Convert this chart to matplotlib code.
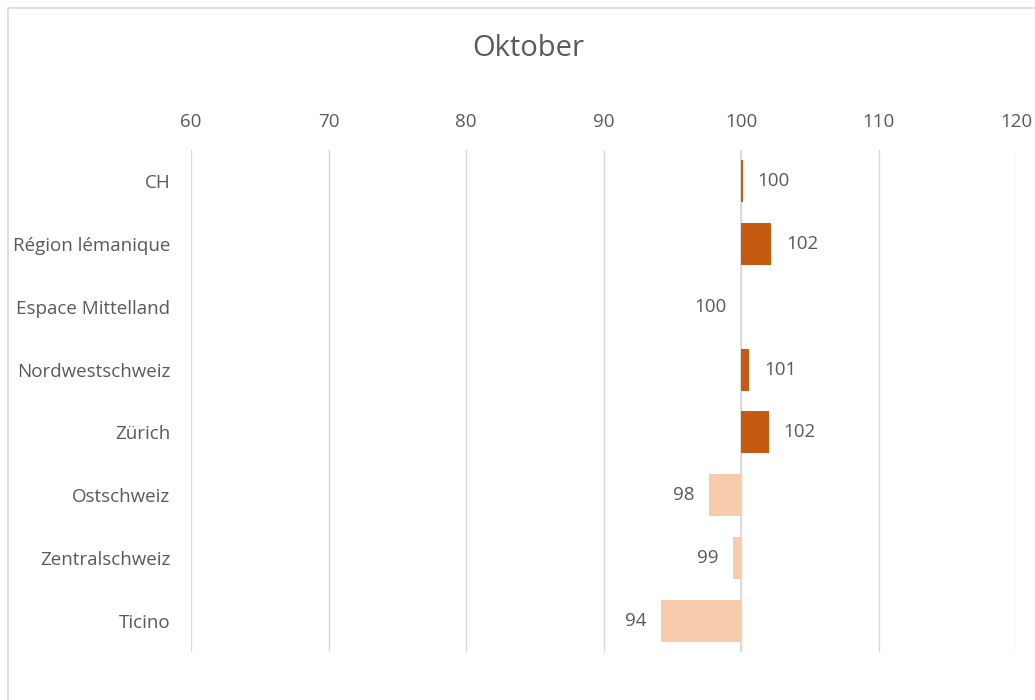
import matplotlib
matplotlib.use("Agg")
import matplotlib.pyplot as plt
from matplotlib.patches import Rectangle

categories = ["CH", "Région lémanique", "Espace Mittelland", "Nordwestschweiz",
              "Zürich", "Ostschweiz", "Zentralschweiz", "Ticino"]
values = [100.15, 102.2, 99.98, 100.6, 102.0, 97.7, 99.4, 94.2]
labels = ["100", "102", "100", "101", "102", "98", "99", "94"]
base = 100
xticks = [60, 70, 80, 90, 100, 110, 120]

pos_color = "#C55A11"
neg_color = "#F8CBAD"
text_color = "#595959"
grid_color = "#D9D9D9"

plt.rcParams['font.family'] = ['Open Sans', 'DejaVu Sans']

fig = plt.figure(figsize=(10.35, 7), dpi=100)
fig.patches.append(Rectangle((8/1035, -0.1), 1.2, 1 - 8/700 + 0.1,
                             transform=fig.transFigure, fill=False,
                             edgecolor=grid_color, linewidth=1.2))
ax = fig.add_axes([191/1035, 1 - 652/700, (1016 - 191)/1035, (652 - 150)/700])

ys = list(range(len(categories)))
for y, v, lab in zip(ys, values, labels):
    c = pos_color if v >= base else neg_color
    ax.barh(y, v - base, left=base, height=0.67, color=c, edgecolor='none')
    if v >= base:
        ax.annotate(lab, (v, y), xytext=(10.5, 0), textcoords='offset points',
                    ha='left', va='center', fontsize=13.5, color=text_color)
    else:
        ax.annotate(lab, (v, y), xytext=(-10.5, 0), textcoords='offset points',
                    ha='right', va='center', fontsize=13.5, color=text_color)

ax.set_xlim(60, 120)
ax.set_ylim(len(categories) - 0.5, -0.5)
ax.set_xticks(xticks)
ax.set_xticklabels([str(t) for t in xticks])
ax.set_yticks(ys)
ax.set_yticklabels(categories)
ax.xaxis.tick_top()
ax.tick_params(axis='x', length=0, pad=14, labelsize=13.5, labelcolor=text_color)
ax.tick_params(axis='y', length=0, pad=15, labelsize=13.5, labelcolor=text_color)
ax.grid(axis='x', color=grid_color, linewidth=1)
ax.set_axisbelow(True)
for s in ax.spines.values():
    s.set_visible(False)
ax.axvline(base, color=grid_color, linewidth=1.2, zorder=0.5)

fig.text(528/1035, 1 - 48/700, "Oktober", ha='center', va='center',
         fontsize=21, color=text_color)

fig.savefig("out.png", dpi=100)
